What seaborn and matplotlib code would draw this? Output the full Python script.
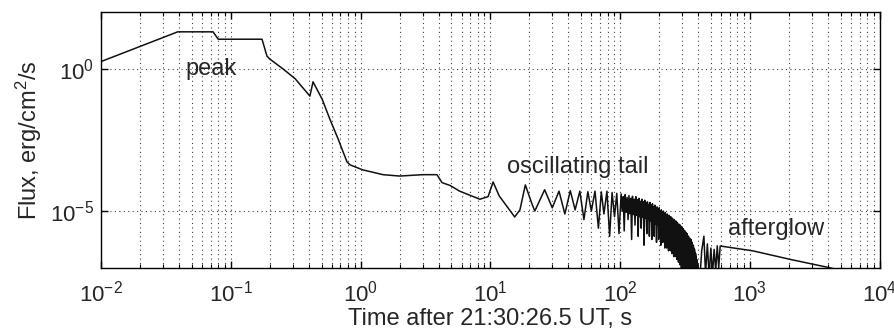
import numpy as np
import pandas as pd
import seaborn as sns
import matplotlib.pyplot as plt
from matplotlib.ticker import FixedLocator, LogLocator, NullLocator

# 初期の立ち上がり〜ピーク〜減衰（時刻 s, フラックス erg/cm^2/s）
head_t = [0.01, 0.039, 0.073, 0.08, 0.174, 0.19, 0.2, 0.252, 0.313, 0.407, 0.43,
          0.505, 0.58, 0.67, 0.785, 0.83, 1.04, 1.49, 2.0, 3.0, 3.88, 4.24, 4.9,
          5.8, 8.3, 9.6, 10.5, 11.7, 15.4, 16.9, 18.6, 20.9]
head_f = [1.8e0, 2.0e1, 2.0e1, 1.1e1, 1.1e1, 2.8e0, 2.2e0, 1.0e0, 4.5e-1, 1.1e-1,
          3.5e-1, 8.7e-2, 1.7e-2, 3.5e-3, 5.4e-4, 4.2e-4, 2.8e-4, 1.9e-4, 1.7e-4,
          1.9e-4, 1.9e-4, 1.0e-4, 7.9e-5, 5.0e-5, 2.6e-5, 3.2e-5, 1.05e-4, 3.4e-5,
          6.2e-6, 1.1e-5, 8.3e-5, 1.8e-5]

# 振動する尾部の前半（ピークと谷を交互に読み取り）
tail_t = [22.0, 26.2, 30.0, 33.8, 37.5, 41.3, 45.0, 48.9, 52.6, 56.4, 60.0, 64.0,
          68.0, 71.6, 75.0, 79.1, 83.0, 86.7, 90.5, 94.2, 98.0]
tail_f = [1.0e-5, 5.6e-5, 1.3e-5, 5.0e-5, 7.9e-6, 5.2e-5, 1.1e-5, 5.0e-5, 5.0e-6,
          4.8e-5, 1.0e-5, 5.0e-5, 2.5e-6, 4.7e-5, 7.9e-6, 5.0e-5, 1.3e-6, 4.5e-5,
          6.3e-6, 4.2e-5, 1.6e-6]

# 尾部の後半：各周期の開始時刻と、主ピーク・浅い谷・副ピーク・深い谷
cycle_t = [101.8, 109.4, 116.9, 124.5, 132.0, 139.6, 147.2, 154.7, 162.3, 169.8,
           177.4, 185.0, 192.5, 200.1, 207.6, 215.2, 222.8, 230.3, 237.9, 245.4,
           253.0, 260.6, 268.1, 275.7, 283.2, 290.8, 298.4, 305.9, 313.5, 321.0,
           328.6, 336.2, 343.7, 351.3, 358.8, 366.4, 374.0, 381.5, 389.1, 396.6]
pulse_phase = [0.0, 1.9, 3.8, 5.7]
cycle_peak = [4.0e-5, 3.8e-5, 3.5e-5, 3.3e-5, 3.2e-5, 2.8e-5, 2.6e-5, 2.4e-5, 2.1e-5,
              2.0e-5, 1.8e-5, 1.6e-5, 1.4e-5, 1.3e-5, 1.1e-5, 1.0e-5, 8.9e-6, 7.9e-6,
              7.1e-6, 6.3e-6, 5.6e-6, 5.0e-6, 4.5e-6, 4.0e-6, 3.5e-6, 3.2e-6, 2.8e-6,
              2.4e-6, 2.1e-6, 1.8e-6, 1.6e-6, 1.3e-6, 1.1e-6, 1.0e-6, 7.9e-7, 6.3e-7,
              4.5e-7, 3.2e-7, 2.0e-7, 1.3e-7]
cycle_dip = [1.0e-5, 9.0e-6, 8.0e-6, 7.5e-6, 7.0e-6, 6.3e-6, 6.0e-6, 5.5e-6, 5.0e-6,
             4.5e-6, 4.0e-6, 3.6e-6, 3.2e-6, 2.8e-6, 2.5e-6, 2.2e-6, 2.0e-6, 1.8e-6,
             1.6e-6, 1.4e-6, 1.2e-6, 1.1e-6, 1.0e-6, 8.9e-7, 7.9e-7, 7.1e-7, 6.3e-7,
             5.6e-7, 5.0e-7, 4.0e-7, 3.5e-7, 3.2e-7, 2.5e-7, 2.0e-7, 1.6e-7, 1.3e-7,
             1.0e-7, 7.9e-8, 5.0e-8, 4.0e-8]
cycle_peak2 = [3.2e-5, 3.0e-5, 2.8e-5, 2.6e-5, 2.5e-5, 2.2e-5, 2.1e-5, 1.9e-5, 1.7e-5,
               1.6e-5, 1.4e-5, 1.3e-5, 1.1e-5, 1.0e-5, 9.0e-6, 8.0e-6, 7.1e-6, 6.3e-6,
               5.6e-6, 5.0e-6, 4.5e-6, 4.0e-6, 3.5e-6, 3.2e-6, 2.8e-6, 2.5e-6, 2.2e-6,
               1.9e-6, 1.7e-6, 1.4e-6, 1.3e-6, 1.0e-6, 9.0e-7, 8.0e-7, 6.3e-7, 5.0e-7,
               3.5e-7, 2.5e-7, 1.6e-7, 1.0e-7]
cycle_trough = [2.0e-6, 5.0e-6, 1.0e-6, 3.2e-6, 1.3e-6, 2.5e-6, 6.3e-7, 1.6e-6, 1.3e-6,
                1.0e-6, 1.3e-6, 8.0e-7, 1.0e-6, 6.3e-7, 7.9e-7, 5.0e-7, 5.0e-7, 4.0e-7,
                4.0e-7, 3.2e-7, 2.5e-7, 2.5e-7, 2.0e-7, 1.6e-7, 1.3e-7, 1.0e-7, 7.9e-8,
                6.3e-8, 5.0e-8, 5.0e-8, 4.0e-8, 3.2e-8, 3.2e-8, 4.0e-8, 3.2e-8, 3.2e-8,
                2.5e-8, 2.5e-8, 2.5e-8, 2.5e-8]

# 残光（ノイズ部分と緩やかな減衰）
glow_t = [410, 425, 442, 455, 470, 485, 500, 515, 530, 545, 560, 575, 590, 1050,
          2040, 3900, 10000]
glow_f = [3.0e-8, 4.0e-7, 1.3e-6, 6.0e-8, 7.0e-7, 5.0e-8, 5.0e-7, 6.0e-8, 4.5e-7,
          8.0e-8, 6.0e-7, 1.0e-7, 5.9e-7, 4.0e-7, 2.0e-7, 1.07e-7, 4.0e-8]

labels = ["peak", "oscillating tail", "afterglow"]
label_t = [0.071, 47.0, 1600.0]
label_f = [1.0, 3.5e-4, 2.3e-6]

# 周期ごとの 4 点を時系列に並べる
pulse_t, pulse_f = [], []
for t0, a, b, c, d in zip(cycle_t, cycle_peak, cycle_dip, cycle_peak2, cycle_trough):
    pulse_t += [t0 + p for p in pulse_phase]
    pulse_f += [a, b, c, d]

df = pd.DataFrame({
    "time": head_t + tail_t + pulse_t + glow_t,
    "flux": head_f + tail_f + pulse_f + glow_f,
})

sns.set_style("ticks")
plt.rcParams["font.family"] = ["Liberation Sans", "DejaVu Sans"]
plt.rcParams["mathtext.default"] = "regular"

fig = plt.figure(figsize=(8.94, 3.32), dpi=100)
ax = fig.add_axes([0.113, 0.193, 0.871, 0.771])

sns.lineplot(data=df, x="time", y="flux", sort=False, estimator=None,
             color="#111111", linewidth=1.1, ax=ax)

ax.set_xscale("log")
ax.set_yscale("log")
ax.set_xlim(1e-2, 1e4)
ax.set_ylim(1e-7, 1e2)

ax.yaxis.set_major_locator(FixedLocator([1e-5, 1e0]))
ax.yaxis.set_minor_locator(NullLocator())
ax.xaxis.set_major_locator(LogLocator(base=10, numticks=10))
ax.xaxis.set_minor_locator(LogLocator(base=10, subs=np.arange(2, 10), numticks=10))

ax.tick_params(which="both", direction="in", top=True, right=True, labelsize=16,
               color="black")
ax.tick_params(axis="x", pad=9)
ax.tick_params(axis="y", pad=5)
ax.tick_params(which="major", length=5, width=1)
ax.tick_params(which="minor", length=3, width=0.8)

ax.grid(True, which="both", axis="x", linestyle=(0, (1, 3)), color="black",
        linewidth=0.8, alpha=0.75)
ax.grid(True, which="major", axis="y", linestyle=(0, (1, 3)), color="black",
        linewidth=0.8, alpha=0.75)

for s in ax.spines.values():
    s.set_color("black")
    s.set_linewidth(1.0)

for label, tx, ty in zip(labels, label_t, label_f):
    ax.text(tx, ty, label, fontsize=17, ha="center", va="center")

ax.set_xlabel("Time after 21:30:26.5 UT, s", fontsize=17, labelpad=1)
ax.set_ylabel("Flux, erg/cm$^2$/s", fontsize=17, labelpad=4)

plt.savefig("out.png", dpi=100)
